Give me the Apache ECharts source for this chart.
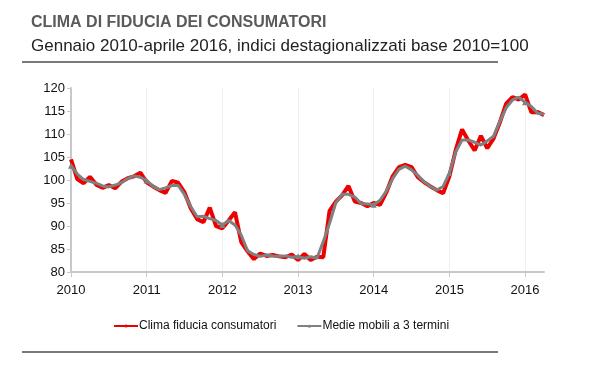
<!DOCTYPE html>
<html>
<head>
<meta charset="utf-8">
<script src="https://cdn.jsdelivr.net/npm/echarts@6/dist/echarts.min.js"></script>
<style>
html,body{margin:0;padding:0;background:#fff;}
#c{width:600px;height:374px;}
</style>
</head>
<body>
<div id="c"></div>
<script>
// Months Jan 2010 .. Apr 2016
const years = [2010, 2011, 2012, 2013, 2014, 2015, 2016];
const monthNames = ['gen','feb','mar','apr','mag','giu','lug','ago','set','ott','nov','dic'];
const categories = [];
for (const y of years) {
  for (let m = 0; m < 12; m++) {
    if (y === 2016 && m > 3) break;
    categories.push(monthNames[m] + ' ' + y);
  }
}

const clima = [
  104.5, 100.2, 99.3, 100.7, 99.0, 98.3, 98.9, 98.2, 99.6, 100.4, 100.8, 101.6,
  99.5, 98.6, 97.8, 97.2, 99.8, 99.4, 97.3, 93.8, 91.5, 90.8, 94.0, 90.0,
  89.5, 91.2, 93.0, 86.5, 84.5, 82.8, 84.0, 83.5, 83.7, 83.4, 83.2, 83.8,
  82.6, 83.9, 82.6, 83.3, 83.2, 93.3, 95.3, 96.7, 98.7, 95.3, 95.0, 94.3,
  95.0, 94.6, 97.3, 100.8, 102.8, 103.3, 102.8, 100.6, 99.5, 98.6, 97.8, 97.1,
  100.8, 106.5, 111.0, 108.6, 106.4, 109.6, 106.9, 109.0, 112.5, 116.6, 118.0, 117.5,
  118.6, 114.7, 114.8, 114.1
];

const medie = [
  103.1, 101.3, 100.1, 99.7, 99.3, 98.7, 98.5, 98.9, 99.4, 100.3, 100.9, 100.6,
  99.9, 98.6, 97.9, 98.3, 98.8, 98.8, 96.8, 94.2, 92.0, 92.1, 91.6, 91.2,
  90.2, 91.2, 90.2, 88.0, 84.6, 83.8, 83.4, 83.7, 83.5, 83.4, 83.5, 83.2,
  83.4, 83.0, 83.3, 83.0, 86.6, 90.6, 95.1, 96.9, 96.9, 96.3, 94.9, 94.8,
  94.6, 95.6, 97.6, 100.3, 102.3, 103.0, 102.2, 101.0, 99.6, 98.6, 97.8, 98.6,
  101.5, 106.1, 108.7, 108.7, 108.2, 107.6, 108.5, 109.5, 112.7, 115.7, 117.4, 118.0,
  116.9, 116.0, 114.5, 114.3
];

const yTicks = [80, 85, 90, 95, 100, 105, 110, 115, 120];

const FONT = '"Liberation Sans Narrow", "Liberation Sans", Arial, sans-serif';

const chart = echarts.init(document.getElementById('c'), null, {renderer: 'canvas'});
chart.setOption({
  animation: false,
  backgroundColor: '#ffffff',
  title: {
    text: 'CLIMA DI FIDUCIA DEI CONSUMATORI',
    subtext: 'Gennaio 2010-aprile 2016, indici destagionalizzati base 2010=100',
    left: 26,
    top: 10,
    itemGap: 7,
    textStyle: {fontFamily: FONT, fontSize: 16, fontWeight: 'bold', color: '#5a5a5a'},
    subtextStyle: {fontFamily: FONT, fontSize: 17, color: '#222222'}
  },
  graphic: [
    {type: 'line', shape: {x1: 22, y1: 62, x2: 498, y2: 62}, style: {stroke: '#7a7a7a', lineWidth: 2}},
    {type: 'line', shape: {x1: 22, y1: 352, x2: 498, y2: 352}, style: {stroke: '#7a7a7a', lineWidth: 2}}
  ],
  legend: {
    left: 108,
    top: 315,
    itemGap: 20,
    itemWidth: 24,
    itemHeight: 4,
    textStyle: {fontFamily: FONT, fontSize: 12, color: '#111', padding: [0, 0, 0, -4]},
    data: ['Clima fiducia consumatori', 'Medie mobili a 3 termini']
  },
  grid: {left: 71, right: 56, top: 88, bottom: 102, containLabel: false},
  xAxis: {
    type: 'category',
    data: categories,
    boundaryGap: false,
    axisLine: {lineStyle: {color: '#c8c8c8', width: 2}},
    axisTick: {
      interval: function (i) { return i % 12 === 0; },
      length: 5,
      lineStyle: {color: '#c8c8c8', width: 1}
    },
    axisLabel: {
      interval: function (i) { return i % 12 === 0; },
      formatter: function (v) { return v.split(' ')[1]; },
      fontFamily: FONT, fontSize: 13, color: '#111', margin: 12
    },
    splitLine: {
      show: true,
      interval: function (i) { return i % 12 === 0 && i > 0; },
      lineStyle: {color: '#f0f0f0', width: 1}
    }
  },
  yAxis: {
    type: 'value',
    min: yTicks[0],
    max: yTicks[yTicks.length - 1],
    interval: 5,
    axisLine: {show: true, lineStyle: {color: '#c8c8c8', width: 2}},
    axisTick: {show: true, length: 4, lineStyle: {color: '#c8c8c8'}},
    axisLabel: {fontFamily: FONT, fontSize: 13, color: '#111', margin: 6},
    splitLine: {show: false}
  },
  series: [
    {
      name: 'Clima fiducia consumatori',
      type: 'line',
      data: clima,
      showSymbol: false,
      symbol: 'none',
      lineStyle: {color: '#ee0000', width: 4},
      itemStyle: {color: '#ee0000'},
      z: 2
    },
    {
      name: 'Medie mobili a 3 termini',
      type: 'line',
      data: medie,
      symbol: 'triangle',
      symbolSize: 6,
      lineStyle: {color: '#808080', width: 3},
      itemStyle: {color: '#808080'},
      z: 3
    }
  ]
});
</script>
</body>
</html>
